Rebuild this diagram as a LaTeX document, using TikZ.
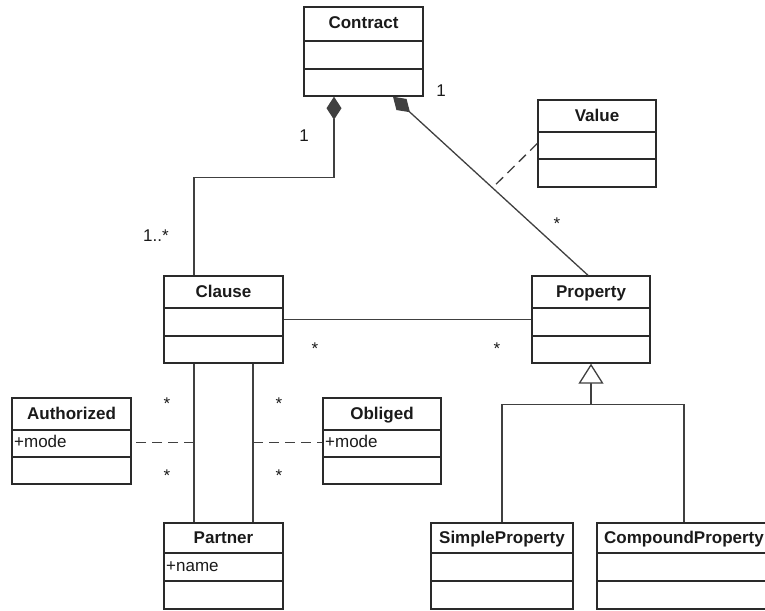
\documentclass[tikz,border=0pt]{standalone}
\usepackage{fontspec}
\setmainfont{Liberation Sans}
\usetikzlibrary{arrows.meta,calc,fit}

\definecolor{boxline}{HTML}{2A2A2A}
\definecolor{wire}{HTML}{404040}
\definecolor{ink}{HTML}{1A1A1A}

\tikzset{
  classbox/.style={draw=boxline, line width=1.4pt, inner sep=0pt},
  sepline/.style={draw=boxline, line width=1.4pt},
  classname/.style={anchor=base, font=\bfseries\fontsize{17}{19}\selectfont, text=ink, inner sep=0pt},
  attrtext/.style={anchor=base west, font=\fontsize{17}{19}\selectfont, text=ink, inner sep=0pt},
  mult/.style={anchor=base, font=\fontsize{17}{19}\selectfont, text=ink, inner sep=0pt},
  assoc/.style={draw=wire, line width=1.3pt},
  compo/.style={assoc, -{Diamond[length=23pt, width=15pt, fill=wire]}},
  linkdash/.style={assoc, dash pattern=on 10pt off 6pt},
  gen/.style={assoc, -{Triangle[open, length=20pt, width=25pt, fill=white]}},
}

% UML class: name, left, top, right, bottom, first separator, second separator, title
\newcommand\umlclass[8]{%
  \node[classbox, fit={(#2,#3) (#4,#5)}] (#1) {};
  \draw[sepline] (#2,#6) -- (#4,#6);
  \draw[sepline] (#2,#7) -- (#4,#7);
  \node[classname] at ({(#2+#4)/2},{(#3+#6)/2+5}) {#8};
}

\begin{document}
\begin{tikzpicture}[x=1pt, y=-1pt]
  \clip (0,0) rectangle (765,610);

  % classes
  \umlclass{contract}{304}{7}{423}{96}{41}{69}{Contract}
  \umlclass{value}{538}{100}{656}{187}{132}{159}{Value}
  \umlclass{clause}{164}{276}{283}{363}{308}{336}{Clause}
  \umlclass{property}{532}{276}{650}{363}{308}{336}{Property}
  \umlclass{authorized}{12}{398}{131}{484}{430}{457}{Authorized}
  \umlclass{obliged}{323}{398}{441}{484}{430}{457}{Obliged}
  \umlclass{partner}{164}{523}{283}{609}{553}{581}{Partner}
  \umlclass{simple}{431}{523}{573}{609}{553}{581}{SimpleProperty}
  \umlclass{compound}{597}{523}{771}{609}{553}{581}{CompoundProperty}

  % attributes
  \node[attrtext] at (14,447.5) {+mode};
  \node[attrtext] at (325,447.5) {+mode};
  \node[attrtext] at (166,571) {+name};

  % composition Contract -- Clause
  \draw[compo] ([xshift=-29.5pt]clause.north) -- ++(0,-98) -| ([xshift=-29.5pt]contract.south);

  % composition Contract -- Property, with association class Value
  \draw[compo] ([xshift=-3pt]property.north) -- ([xshift=29.5pt]contract.south);
  \path ([xshift=-3pt]property.north) -- coordinate[pos=0.49] (vmid) ([xshift=29.5pt]contract.south);
  \draw[linkdash] (value.west) -- (vmid);

  % association Clause -- Property
  \draw[assoc] (clause.east) -- (property.west);

  % two associations Clause -- Partner
  \coordinate (ll) at ([xshift=-29.5pt]clause.south);
  \coordinate (rl) at ([xshift=29.5pt]clause.south);
  \draw[assoc] (ll) -- ([xshift=-29.5pt]partner.north);
  \draw[assoc] (rl) -- ([xshift=29.5pt]partner.north);

  % association classes Authorized and Obliged
  \path (authorized.east) ++(0,1.5) coordinate (aend);
  \path (obliged.west) ++(0,1.5) coordinate (oend);
  \draw[linkdash] (aend -| ll) -- (aend);
  \draw[linkdash] (oend -| rl) -- (oend);

  % generalization Property <- SimpleProperty, CompoundProperty
  \coordinate (gj) at ([yshift=-41pt]property.south);
  \draw[assoc] (simple.north) |- (gj);
  \draw[assoc] (compound.north) |- (gj);
  \draw[gen] (gj) -- (property.south);

  % multiplicities
  \node[mult] at (441,96) {1};
  \node[mult] at (304,141) {1};
  \node[mult] at (557,229) {*};
  \node[mult] at (156,241) {1..*};
  \node[mult] at (315,354) {*};
  \node[mult] at (497,354) {*};
  \node[mult] at (167,409) {*};
  \node[mult] at (167,481) {*};
  \node[mult] at (279,409) {*};
  \node[mult] at (279,481) {*};
\end{tikzpicture}
\end{document}
